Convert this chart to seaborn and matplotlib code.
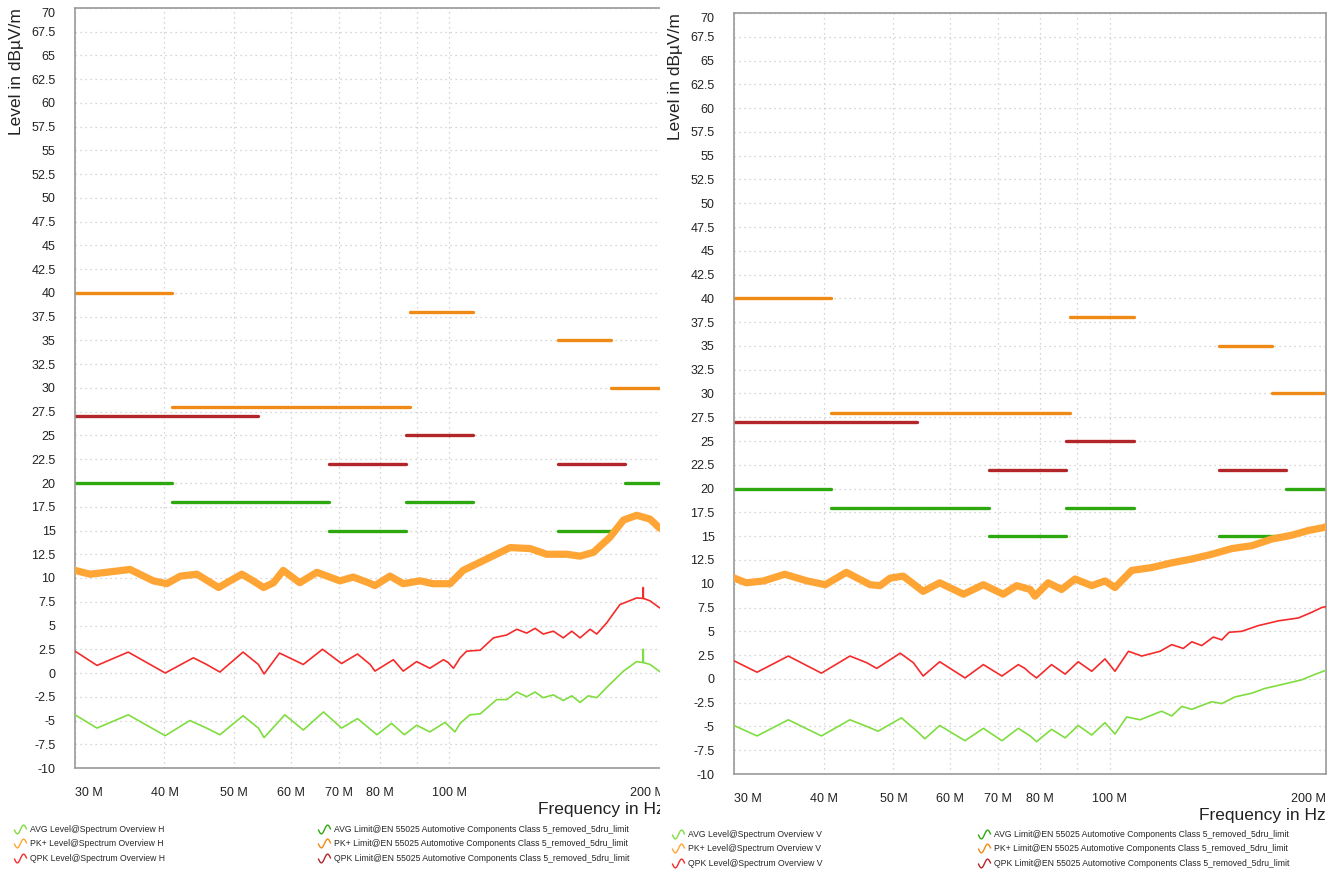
import numpy as np
import pandas as pd
import seaborn as sns
import matplotlib.pyplot as plt
from matplotlib.lines import Line2D
from matplotlib.path import Path
from matplotlib.patches import Rectangle
from matplotlib.ticker import NullFormatter

sns.set_style('white')
plt.rcParams['font.family'] = ['Liberation Sans', 'DejaVu Sans']
plt.rcParams['axes.unicode_minus'] = False

# ---- measured traces, frequency in MHz, level in dBuV/m ----
# horizontal polarisation
h_pk_f = [30, 31.5, 33.2, 35.8, 38.6, 40.3, 42.1, 44.4, 47.6, 49.4, 51.3, 53.2, 55.0, 56.8, 58.6,
          61.8, 65.3, 70.3, 73.4, 77.1, 78.7, 82.6, 86.2, 91.0, 94.9, 100.2, 104.5, 112.7, 121.5,
          129.6, 136.7, 145.8, 152.2, 158.9, 167.6, 175.0, 182.6, 190.6, 196.2, 200]
h_pk_v = [10.8, 10.4, 10.6, 10.9, 9.7, 9.4, 10.2, 10.4, 9.0, 9.7, 10.4, 9.7, 9.0, 9.5, 10.8,
          9.5, 10.6, 9.7, 10.1, 9.5, 9.2, 10.2, 9.4, 9.7, 9.4, 9.4, 10.8, 12.0, 13.2,
          13.1, 12.5, 12.5, 12.3, 12.7, 14.3, 16.1, 16.6, 16.2, 15.3, 15.0]

h_qpk_f = [30, 32.2, 35.6, 40.1, 43.9, 45.8, 47.8, 51.5, 54.1, 55.1, 57.9, 62.5, 66.5, 70.7, 74.4,
           77.5, 78.7, 83.5, 86.2, 90.0, 93.9, 98.1, 99.6, 101.3, 103.5, 105.7, 110.4, 115.2,
           120.2, 124.2, 128.2, 131.7, 135.2, 139.7, 144.2, 148.2, 152.2, 157.2, 160.6, 165.9,
           173.0, 182.6, 186.4, 186.5, 186.6, 190.6, 196.2, 200]
h_qpk_v = [2.3, 0.8, 2.2, 0.0, 1.6, 0.9, 0.1, 2.2, 0.9, -0.1, 2.1, 0.9, 2.5, 1.0, 2.0,
           0.9, 0.2, 1.4, 0.2, 1.2, 0.5, 1.4, 1.1, 0.5, 1.6, 2.3, 2.4, 3.7,
           4.0, 4.6, 4.2, 4.7, 4.1, 4.4, 3.7, 4.4, 3.7, 4.6, 4.1, 5.3,
           7.2, 7.9, 7.85, 9.0, 7.85, 7.6, 6.9, 6.6]

h_avg_f = [30, 32.2, 35.6, 40.1, 43.4, 45.8, 47.8, 51.5, 54.1, 55.1, 58.9, 62.5, 66.7, 70.7, 74.4,
           79.2, 83.0, 86.5, 90.0, 93.9, 98.6, 101.8, 103.5, 106.8, 110.4, 116.4, 120.2, 124.2,
           128.2, 131.7, 135.2, 139.7, 144.2, 148.2, 152.2, 156.3, 160.6, 165.9, 175.0, 182.6,
           186.4, 186.5, 186.6, 190.6, 196.2, 200]
h_avg_v = [-4.4, -5.8, -4.4, -6.6, -5.0, -5.8, -6.5, -4.5, -5.8, -6.8, -4.4, -6.0, -4.1, -5.8, -4.8,
           -6.5, -5.3, -6.5, -5.5, -6.2, -5.2, -6.2, -5.3, -4.4, -4.3, -2.8, -2.8, -2.0,
           -2.5, -2.0, -2.6, -2.3, -2.9, -2.4, -3.1, -2.4, -2.6, -1.5, 0.2, 1.2,
           1.1, 2.5, 1.1, 0.9, 0.2, -0.2]

# vertical polarisation
v_pk_f = [30, 31.2, 33.0, 35.3, 37.9, 40.2, 43.0, 46.4, 47.9, 49.5, 51.6, 55.0, 58.0, 62.6, 66.7,
          71.1, 74.2, 77.5, 78.7, 82.1, 85.7, 89.5, 94.4, 98.5, 101.7, 107.3, 114.4, 122.0,
          130.1, 138.7, 147.9, 157.7, 168.1, 179.2, 189.0, 198.3, 200]
v_pk_v = [10.6, 10.1, 10.3, 11.0, 10.3, 9.9, 11.2, 9.9, 9.8, 10.6, 10.8, 9.2, 10.1, 8.9, 9.9,
          8.9, 9.8, 9.4, 8.7, 10.1, 9.4, 10.5, 9.8, 10.3, 9.6, 11.4, 11.7, 12.2,
          12.6, 13.1, 13.7, 14.0, 14.7, 15.1, 15.6, 15.9, 16.0]

v_qpk_f = [30, 32.3, 35.7, 39.7, 43.5, 45.9, 47.4, 51.1, 53.3, 55.0, 58.0, 62.9, 66.7, 70.8, 74.6,
           76.2, 77.5, 79.1, 83.0, 86.7, 90.4, 94.4, 98.5, 101.7, 106.2, 110.8, 117.5, 122.0,
           126.6, 130.1, 134.3, 139.4, 143.2, 146.6, 152.7, 161.0, 171.7, 183.0, 191.1, 197.3, 200]
v_qpk_v = [1.9, 0.7, 2.4, 0.6, 2.4, 1.7, 1.1, 2.7, 1.7, 0.3, 1.8, 0.1, 1.5, 0.3, 1.5,
           1.1, 0.6, 0.1, 1.5, 0.5, 1.8, 0.8, 2.1, 0.8, 2.9, 2.4, 2.9, 3.6,
           3.2, 3.9, 3.5, 4.4, 4.1, 4.9, 5.0, 5.6, 6.1, 6.4, 7.0, 7.5, 7.6]

v_avg_f = [30, 32.3, 35.7, 39.7, 43.5, 45.9, 47.6, 51.3, 54.1, 55.3, 58.0, 62.9, 66.7, 70.8, 74.6,
           77.5, 79.1, 83.0, 86.7, 90.4, 94.4, 98.5, 101.7, 105.6, 110.2, 118.1, 122.0, 126.0,
           130.1, 134.3, 138.7, 143.2, 149.4, 157.7, 164.5, 173.5, 185.0, 192.0, 198.3, 200]
v_avg_v = [-4.9, -6.0, -4.3, -6.0, -4.3, -5.0, -5.5, -4.1, -5.6, -6.3, -4.9, -6.5, -5.2, -6.5, -5.2,
           -6.0, -6.6, -5.3, -6.2, -4.9, -5.9, -4.6, -5.8, -4.0, -4.3, -3.4, -3.9, -2.9,
           -3.2, -2.8, -2.4, -2.6, -1.9, -1.5, -1.0, -0.6, -0.1, 0.4, 0.8, 0.9]

# ---- limit segments (EN 55025 class 5) ----
avg_lim_start = [30, 41, 68, 87, 142, 176]
avg_lim_stop = [41, 68, 87, 108, 171, 200]
avg_lim_level = [20, 18, 15, 18, 15, 20]

pk_lim_start = [30, 41, 88, 142, 168]
pk_lim_stop = [41, 88, 108, 168, 200]
pk_lim_level = [40, 28, 38, 35, 30]

qpk_lim_start = [30, 68, 87, 142]
qpk_lim_stop = [54, 87, 108, 176]
qpk_lim_level = [27, 22, 25, 22]

x_ticks = [30, 40, 50, 60, 70, 80, 100, 200]
x_tick_labels = ['30 M', '40 M', '50 M', '60 M', '70 M', '80 M', '100 M', '200 M']

lim_colors = {'AVG': '#2ea80f', 'PK+': '#f08a17', 'QPK': '#b2262a'}
trace_colors = {'AVG': '#80dd40', 'PK+': '#ffa535', 'QPK': '#f52b2b'}


def segments(kind, start, stop, level):
    rows = []
    for i, (a, b, lv) in enumerate(zip(start, stop, level)):
        rows.append({'kind': kind, 'seg': i, 'f': a, 'v': lv})
        rows.append({'kind': kind, 'seg': i, 'f': b, 'v': lv})
    return rows


limits = pd.DataFrame(segments('AVG', avg_lim_start, avg_lim_stop, avg_lim_level)
                      + segments('PK+', pk_lim_start, pk_lim_stop, pk_lim_level)
                      + segments('QPK', qpk_lim_start, qpk_lim_stop, qpk_lim_level))

grid_kw = dict(color='#c8c8c8', linestyle=(0, (1, 3)), linewidth=0.9)


def draw_panel(ax, avg_f, avg_v, pk_f, pk_v, qpk_f, qpk_v):
    for kind in ['PK+', 'QPK', 'AVG']:
        d = limits[limits['kind'] == kind]
        sns.lineplot(data=d, x='f', y='v', units='seg', estimator=None, color=lim_colors[kind],
                     lw=2.4, ax=ax, legend=False, zorder=2)
    sns.lineplot(x=pk_f, y=pk_v, color=trace_colors['PK+'], lw=5.2, ax=ax, zorder=3)
    sns.lineplot(x=qpk_f, y=qpk_v, color=trace_colors['QPK'], lw=1.2, ax=ax, zorder=3)
    sns.lineplot(x=avg_f, y=avg_v, color=trace_colors['AVG'], lw=1.2, ax=ax, zorder=3)

    ax.set_xscale('log')
    ax.set_xlim(30, 200)
    ax.set_ylim(-10, 70)
    ax.set_xticks(x_ticks)
    ax.set_xticklabels(x_tick_labels)
    ax.set_xticks([90], minor=True)
    ax.xaxis.set_minor_formatter(NullFormatter())
    yt = np.arange(-10, 70.1, 2.5)
    ax.set_yticks(yt)
    ax.set_yticklabels([f'{t:g}' for t in yt])

    ax.grid(True, which='both', axis='x', **grid_kw)
    ax.grid(True, which='major', axis='y', **grid_kw)
    ax.tick_params(axis='both', which='major', direction='out', length=6, width=1,
                   color='#9a9a9a', labelsize=9, labelcolor='#222222')
    ax.tick_params(axis='y', pad=8)
    ax.tick_params(axis='x', pad=8)
    ax.tick_params(axis='x', which='minor', length=0)
    for s in ax.spines.values():
        s.set_color('#9a9a9a')
        s.set_linewidth(1.2)

    xl = ax.get_xticklabels()
    xl[0].set_ha('left')
    xl[-1].set_ha('right')
    ticks = ax.xaxis.get_major_ticks()
    ticks[0].tick1line.set_visible(False)
    ticks[-1].tick1line.set_visible(False)
    ax.get_yticklabels()[-1].set_va('top')

    ax.set_xlabel('Frequency in Hz', loc='right', fontsize=12.5, labelpad=2, color='#222222')
    ax.set_ylabel('Level in dB\u00b5V/m', loc='top', fontsize=12.5, labelpad=5, color='#222222')


W, H = 1336, 871
fig = plt.figure(figsize=(W / 100, H / 100), dpi=100)

ax_h = fig.add_axes([75 / W, 1 - 768 / H, 590 / W, 760 / H], zorder=0)
ax_v = fig.add_axes([734 / W, 1 - 774 / H, 592 / W, 761 / H], zorder=2)

draw_panel(ax_h, h_avg_f, h_avg_v, h_pk_f, h_pk_v, h_qpk_f, h_qpk_v)
draw_panel(ax_v, v_avg_f, v_avg_v, v_pk_f, v_pk_v, v_qpk_f, v_qpk_v)

# the right panel sits over the clipped end of the left one
fig.add_artist(Rectangle((660 / W, 0), 74 / W, 1, transform=fig.transFigure,
                         facecolor='white', edgecolor='none', zorder=1))

# small wave glyph used as legend symbol
t = np.linspace(-1, 1, 30)
wave = Path(np.column_stack([t, 0.7 * np.sin(np.pi * t)]))


def wave_handle(c):
    return Line2D([], [], linestyle='None', marker=wave, markersize=9, markerfacecolor='none',
                  markeredgecolor=c, markeredgewidth=1.0, fillstyle='none')


legend_kw = dict(loc='upper left', frameon=False, fontsize=6.2, handlelength=1.1,
                 handletextpad=0.6, labelspacing=0.62, borderpad=0, borderaxespad=0)
lim_text = ' Limit@EN 55025 Automotive Components Class 5_removed_5dru_limit'

for pol, x1, x2, ytop in [('H', 15, 319, 825), ('V', 673, 979, 830)]:
    kinds = ['AVG', 'PK+', 'QPK']
    lg1 = fig.legend([wave_handle(trace_colors[k]) for k in kinds],
                     [f'{k} Level@Spectrum Overview {pol}' for k in kinds],
                     bbox_to_anchor=(x1 / W, 1 - ytop / H), **legend_kw)
    lg2 = fig.legend([wave_handle(lim_colors[k]) for k in kinds],
                     [k + lim_text for k in kinds],
                     bbox_to_anchor=(x2 / W, 1 - ytop / H), **legend_kw)
    for lg in (lg1, lg2):
        lg.set_zorder(3)

fig.savefig('out.png', dpi=100)
